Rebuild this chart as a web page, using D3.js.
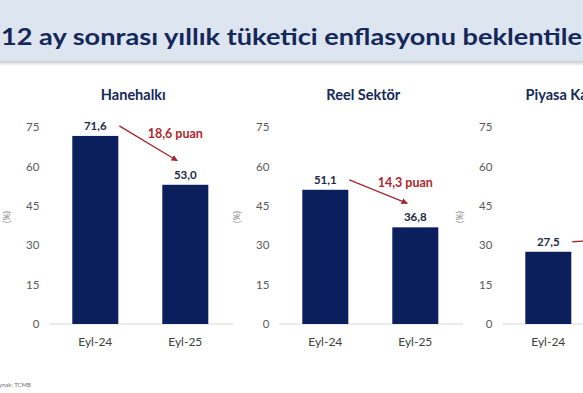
<!DOCTYPE html>
<html><head><meta charset="utf-8">
<script src="https://cdn.jsdelivr.net/npm/d3@7/dist/d3.min.js"></script>
<style>html,body{margin:0;padding:0;background:#fff;overflow:hidden}</style>
</head><body><svg id="c" width="583" height="393"></svg>
<script>
const chartTitle = "12 ay sonrası yıllık tüketici enflasyonu beklentileri";
const categories = ["Eyl-24", "Eyl-25"];
const panelTitles = ["Hanehalkı", "Reel Sektör", "Piyasa Katılımcıları"];
const hanehalki = [71.6, 53.0];
const reelSektor = [51.1, 36.8];
const piyasa = [27.5, 23.3];
const changeLabels = ["18,6 puan", "14,3 puan", "4,2 puan"];
const yTicks = [0, 15, 30, 45, 60, 75];
const yLabel = "(%)";
const source = "Kaynak: TCMB";

const seriesList = [hanehalki, reelSektor, piyasa];
const panelX = [95.3, 325.3, 548.3];   // layout: first bar centre of each panel
const step = 90, barW = 46;
const font = "Lato, 'Open Sans', sans-serif";
const fmt = v => d3.format(".1f")(v).replace(".", ",");

const svg = d3.select("#c");
const defs = svg.append("defs");
defs.append("marker").attr("id","ah").attr("viewBox","0 0 10 10").attr("refX",9).attr("refY",5)
  .attr("markerWidth",5).attr("markerHeight",5).attr("orient","auto")
  .append("path").attr("d","M0,0L10,5L0,10z").attr("fill","#9e2a2f");
const grad = defs.append("linearGradient").attr("id","sh").attr("x1",0).attr("x2",0).attr("y1",0).attr("y2",1);
grad.append("stop").attr("offset",0).attr("stop-color","#c9ccd2");
grad.append("stop").attr("offset",1).attr("stop-color","#ffffff");

// title band
svg.append("rect").attr("x",0).attr("y",0).attr("width",583).attr("height",61).attr("fill","#dde5f0");
svg.append("rect").attr("x",0).attr("y",61).attr("width",583).attr("height",5).attr("fill","url(#sh)");
svg.append("text").attr("x",1).attr("y",45).attr("fill","#15285a")
  .attr("font-family",font).attr("font-weight","bold").attr("font-size",23)
  .attr("textLength",598).attr("lengthAdjust","spacingAndGlyphs").text(chartTitle);

const y = d3.scaleLinear().domain([0, 75]).range([324, 127]);

seriesList.forEach((vals, i) => {
  const c1 = panelX[i];
  const x = d3.scalePoint().domain(categories).range([c1, c1 + step]);
  const g = svg.append("g");
  // baseline
  g.append("line").attr("x1", c1 - 46).attr("x2", c1 + step + 48)
    .attr("y1", y(0)).attr("y2", y(0)).attr("stroke","#d9d9d9").attr("stroke-width",1);
  // y axis
  const ax = d3.axisLeft(y).tickValues(yTicks).tickSize(0).tickPadding(0);
  const axg = g.append("g").attr("transform",`translate(${c1 - 56},0)`).call(ax);
  axg.select(".domain").remove();
  axg.selectAll("text").attr("font-family",font).attr("font-size",11.5).attr("fill","#595959");
  // y label
  g.append("text").attr("transform",`translate(${c1 - 85},217) rotate(-90)`)
    .attr("text-anchor","middle").attr("font-family",font).attr("font-size",9).attr("fill","#7f7f7f").text(yLabel);
  // panel title
  g.append("text").attr("x", c1 + step/2 - 7).attr("y", 100).attr("text-anchor","middle")
    .attr("font-family",font).attr("font-weight","bold").attr("font-size",14.5).attr("fill","#15285a")
    .text(panelTitles[i]);
  // bars
  g.selectAll("rect.bar").data(vals).join("rect").attr("class","bar")
    .attr("x",(d,j)=>x(categories[j]) - barW/2).attr("width",barW)
    .attr("y",d=>y(d)).attr("height",d=>y(0)-y(d)).attr("fill","#0a1f5c");
  // value labels
  g.selectAll("text.val").data(vals).join("text").attr("class","val")
    .attr("x",(d,j)=>x(categories[j])).attr("y",d=>y(d)-6).attr("text-anchor","middle")
    .attr("font-family",font).attr("font-weight","bold").attr("font-size",11.5).attr("fill","#1e2a44")
    .text(fmt);
  // category labels
  g.selectAll("text.cat").data(categories).join("text").attr("class","cat")
    .attr("x",d=>x(d)).attr("y",346).attr("text-anchor","middle")
    .attr("font-family",font).attr("font-size",12).attr("fill","#404040").text(d=>d);
  // arrow
  const sx = x(categories[0]) + 24, sy = y(vals[0]) - 10;
  const ex = x(categories[1]) - 8, ey = y(vals[1]) - 24;
  g.append("line").attr("x1",sx).attr("y1",sy).attr("x2",ex).attr("y2",ey)
    .attr("stroke","#9e2a2f").attr("stroke-width",1.3).attr("marker-end","url(#ah)");
  g.append("text").attr("x",(sx+ex)/2 + 27).attr("y",(sy+ey)/2 - 5).attr("text-anchor","middle")
    .attr("font-family",font).attr("font-weight","bold").attr("font-size",12.5).attr("fill","#b0262c")
    .text(changeLabels[i]);
});

svg.append("text").attr("x",-8).attr("y",387).attr("font-family",font).attr("font-size",6)
  .attr("fill","#6f6f6f").text(source);
</script></body></html>
